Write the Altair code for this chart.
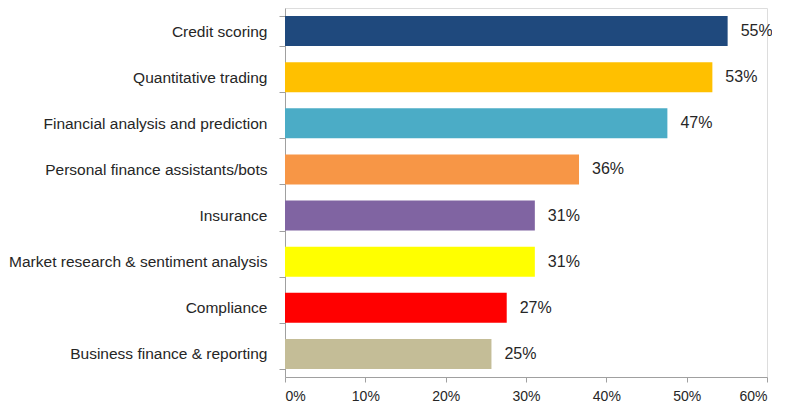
import altair as alt
import pandas as pd

categories = [
    "Credit scoring",
    "Quantitative trading",
    "Financial analysis and prediction",
    "Personal finance assistants/bots",
    "Insurance",
    "Market research & sentiment analysis",
    "Compliance",
    "Business finance & reporting",
]
values = [55.1, 53.2, 47.6, 36.6, 31.1, 31.1, 27.6, 25.7]
labels = ["55%", "53%", "47%", "36%", "31%", "31%", "27%", "25%"]
colors = ["#1F497D", "#FFC000", "#4BACC6", "#F79646", "#8064A2", "#FFFF00", "#FF0000", "#C4BD97"]
x_ticks = [0, 10, 20, 30, 40, 50, 60]

df = pd.DataFrame({"category": categories, "value": values, "label": labels})

FONT = "Liberation Sans"
TXT = "#262626"
AX = "#A0A0A0"

y_enc = alt.Y(
    "category:N",
    sort=categories,
    title=None,
    scale=alt.Scale(paddingInner=0.35, paddingOuter=0.175),
    axis=alt.Axis(
        tickBand="extent",
        tickSize=6,
        tickColor=AX,
        domainColor=AX,
        labelFont=FONT,
        labelFontSize=15.5,
        labelColor=TXT,
        labelPadding=12,
        labelLimit=400,
    ),
)
x_enc = alt.X(
    "value:Q",
    title=None,
    scale=alt.Scale(domain=[0, 60], nice=False),
    axis=alt.Axis(
        values=x_ticks,
        labelExpr="datum.value + '%'",
        grid=False,
        tickSize=5,
        tickColor=AX,
        domainColor=AX,
        labelFont=FONT,
        labelFontSize=14,
        labelColor=TXT,
        labelPadding=7,
    ),
)

bars = alt.Chart(df).mark_bar().encode(
    y=y_enc,
    x=x_enc,
    color=alt.Color("category:N", scale=alt.Scale(domain=categories, range=colors), legend=None),
)

text = alt.Chart(df).mark_text(
    align="left", baseline="middle", dx=13, font=FONT, fontSize=16, color=TXT
).encode(
    y=alt.Y("category:N", sort=categories),
    x=alt.X("value:Q"),
    text="label:N",
)

chart = (
    alt.layer(bars, text)
    .properties(
        width=482,
        height=369,
        padding={"left": 277, "top": 0, "right": 5, "bottom": 26},
        autosize=alt.AutoSizeParams(type="none"),
    )
    .configure_view(stroke=None)
    .configure(background="white")
)

chart.save("out.html", embed_options={"renderer": "svg", "actions": False})
